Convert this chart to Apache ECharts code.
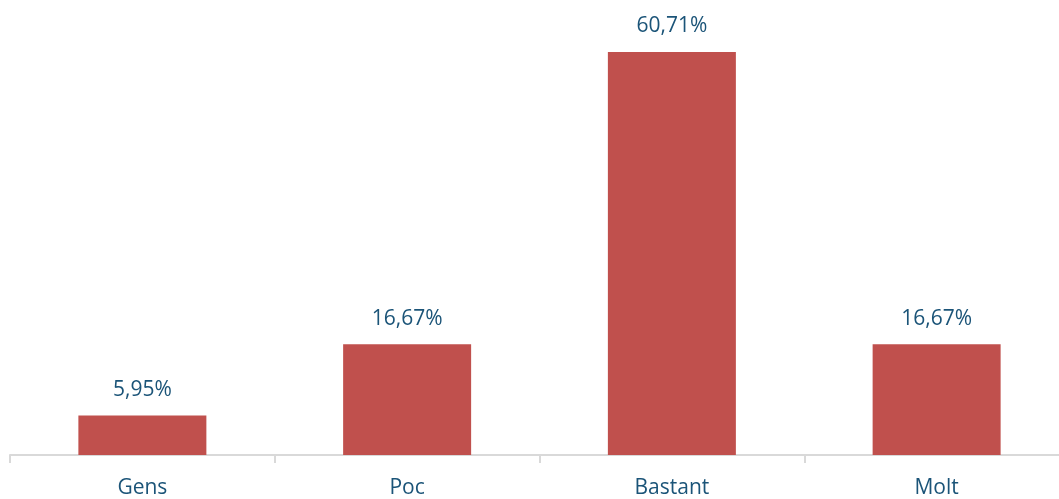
<!DOCTYPE html>
<html>
<head>
<meta charset="utf-8">
<script src="https://cdn.jsdelivr.net/npm/echarts@6/dist/echarts.min.js"></script>
<style>
html,body{margin:0;padding:0;background:#fff;overflow:hidden;}
#chart{width:1070px;height:499px;}
</style>
</head>
<body>
<div id="chart"></div>
<script>
const categories = ['Gens', 'Poc', 'Bastant', 'Molt'];
const values = [5.95, 16.67, 60.71, 16.67];

const chart = echarts.init(document.getElementById('chart'), null, {renderer: 'canvas'});
const fmt = v => v.toFixed(2).replace('.', ',') + '%';
chart.setOption({
  animation: false,
  grid: {left: 10, right: 1, top: 52, bottom: 43, containLabel: false},
  xAxis: {
    type: 'category',
    data: categories,
    axisLine: {lineStyle: {color: '#d9d9d9', width: 2}},
    axisTick: {show: true, length: 8, lineStyle: {color: '#d9d9d9', width: 2}},
    axisLabel: {color: '#1b5478', fontFamily: 'Open Sans', fontSize: 21, margin: 23}
  },
  yAxis: {
    type: 'value',
    min: 0,
    max: Math.max(...values),
    show: false,
    splitLine: {show: false}
  },
  series: [{
    type: 'bar',
    data: values,
    barWidth: 128,
    itemStyle: {color: '#c0504d'},
    label: {
      show: true,
      position: 'top',
      distance: 15,
      formatter: p => fmt(p.value),
      color: '#1b5478',
      fontFamily: 'Open Sans',
      fontSize: 21
    }
  }]
});
</script>
</body>
</html>
